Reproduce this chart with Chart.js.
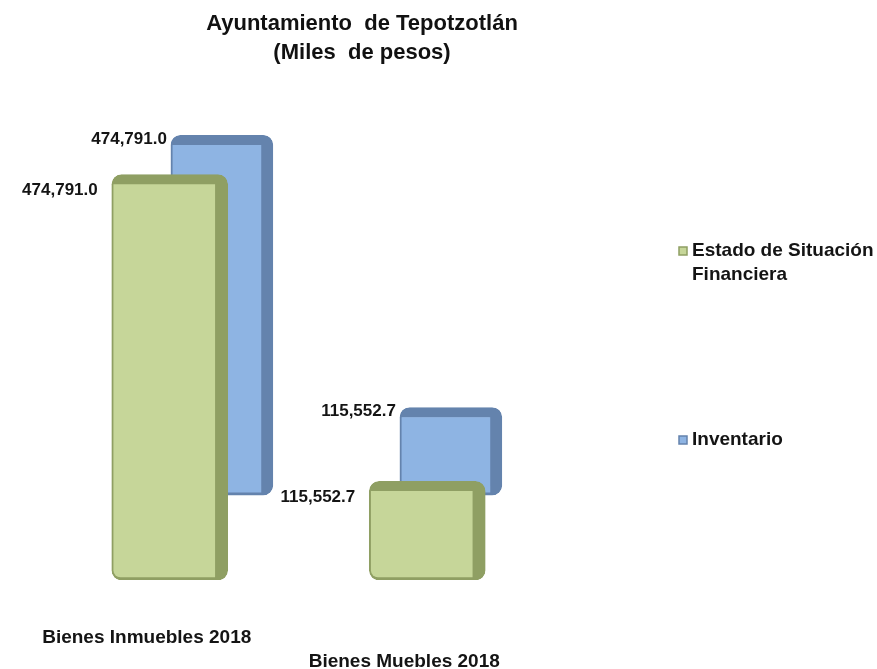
<!DOCTYPE html>
<html>
<head>
<meta charset="utf-8">
<script src="https://cdn.jsdelivr.net/npm/chart.js@4/dist/chart.umd.min.js"></script>
<style>
  body { margin: 0; background: #fff; }
  #wrap { width: 877px; height: 669px; }
</style>
</head>
<body>
<div id="wrap"><canvas id="bienesChart"></canvas></div>
<script>
var categories = ["Bienes Inmuebles 2018", "Bienes Muebles 2018"];
var tickLabels = [categories[0], ["", categories[1]]];
var estadoSituacion = [474791.0, 115552.7];
var inventario = [474791.0, 115552.7];
var seriesNames = ["Estado de Situación Financiera", "Inventario"];
var legendLines = [["Estado de Situación", "Financiera"], ["Inventario"]];

var fontFam = "'Liberation Sans', Arial, sans-serif";

function fmt(v){
	return v.toLocaleString("en-US", {minimumFractionDigits: 1, maximumFractionDigits: 1});
}

// value labels to the left of each bar top
var valueLabels = {
	id: "valueLabels",
	afterDatasetsDraw: function(chart){
		var ctx = chart.ctx;
		var cfg = [{gap: 14, dy: 16}, {gap: 4, dy: 4}];
		ctx.save();
		ctx.font = "bold 17px " + fontFam;
		ctx.fillStyle = "#141414";
		ctx.textAlign = "right";
		ctx.textBaseline = "middle";
		chart.data.datasets.forEach(function(ds, i){
			var meta = chart.getDatasetMeta(i);
			meta.data.forEach(function(bar, j){
				var v = ds.data[j];
				var val = typeof v === "object" ? v.y : v;
				ctx.fillText(fmt(val), bar.x - bar.width / 2 - cfg[i].gap, bar.y + cfg[i].dy);
			});
		});
		ctx.restore();
	}
};

// legend on the right, text wrapped on two lines
var sideLegend = {
	id: "sideLegend",
	afterDraw: function(chart){
		var ctx = chart.ctx;
		var rows = [251, 440];
		ctx.save();
		ctx.font = "bold 19px " + fontFam;
		ctx.textAlign = "left";
		ctx.textBaseline = "middle";
		chart.data.datasets.forEach(function(ds, i){
			var y = rows[i];
			ctx.fillStyle = ds.backgroundColor;
			ctx.fillRect(679, y - 4, 8, 8);
			ctx.strokeStyle = ds.borderColor;
			ctx.lineWidth = 1.5;
			ctx.strokeRect(679, y - 4, 8, 8);
			ctx.fillStyle = "#141414";
			legendLines[i].forEach(function(line, k){
				ctx.fillText(line, 692, y + k * 24);
			});
		});
		ctx.restore();
	}
};

var ctx = document.getElementById("bienesChart").getContext("2d");
var chart = new Chart(ctx, {
	type: "bar",
	data: {
		labels: tickLabels,
		datasets: [{
			label: seriesNames[0],
			data: estadoSituacion,
			xAxisID: "x",
			yAxisID: "y",
			order: 0,
			grouped: false,
			barThickness: 116,
			backgroundColor: "#c6d699",
			borderColor: "#8f9f63",
			borderWidth: { top: 10, right: 13, bottom: 3, left: 2 },
			borderSkipped: false,
			borderRadius: 10
		}, {
			label: seriesNames[1],
			data: inventario.map(function(v, i){ return {x: i, y: v}; }),
			xAxisID: "x2",
			yAxisID: "y2",
			order: 1,
			grouped: false,
			barThickness: 102,
			backgroundColor: "#8eb4e3",
			borderColor: "#6483ad",
			borderWidth: { top: 10, right: 12, bottom: 3, left: 2 },
			borderSkipped: false,
			borderRadius: 10
		}]
	},
	options: {
		responsive: true,
		maintainAspectRatio: false,
		animation: false,
		layout: { padding: { left: 41, right: 194, top: 0, bottom: 0 } },
		plugins: {
			legend: { display: false },
			tooltip: { enabled: false },
			title: {
				display: true,
				text: ["Ayuntamiento  de Tepotzotlán", "(Miles  de pesos)"],
				color: "#111",
				font: { family: fontFam, size: 22, weight: "bold", lineHeight: 1.3 },
				padding: { top: 10, bottom: 33 }
			}
		},
		scales: {
			x: {
				type: "category",
				offset: true,
				grid: { display: false, drawTicks: false },
				border: { display: false },
				ticks: {
					color: "#141414",
					padding: 46,
					labelOffset: -23,
					maxRotation: 0,
					autoSkip: false,
					font: { family: fontFam, size: 19, weight: "bold", lineHeight: 1.26 }
				},
				afterFit: function(s){ s.height = 89; }
			},
			x2: {
				type: "linear",
				display: false,
				offset: false,
				min: -0.79,
				max: 1.459
			},
			y: {
				display: false,
				min: 0,
				max: 562000
			},
			y2: {
				display: false,
				min: -112000,
				max: 521000
			},
			yR: {
				type: "linear",
				position: "right",
				display: true,
				ticks: { display: false },
				grid: { display: false, drawTicks: false },
				border: { display: false },
				afterFit: function(s){ s.width = 127; }
			}
		}
	},
	plugins: [valueLabels, sideLegend]
});
</script>
</body>
</html>
